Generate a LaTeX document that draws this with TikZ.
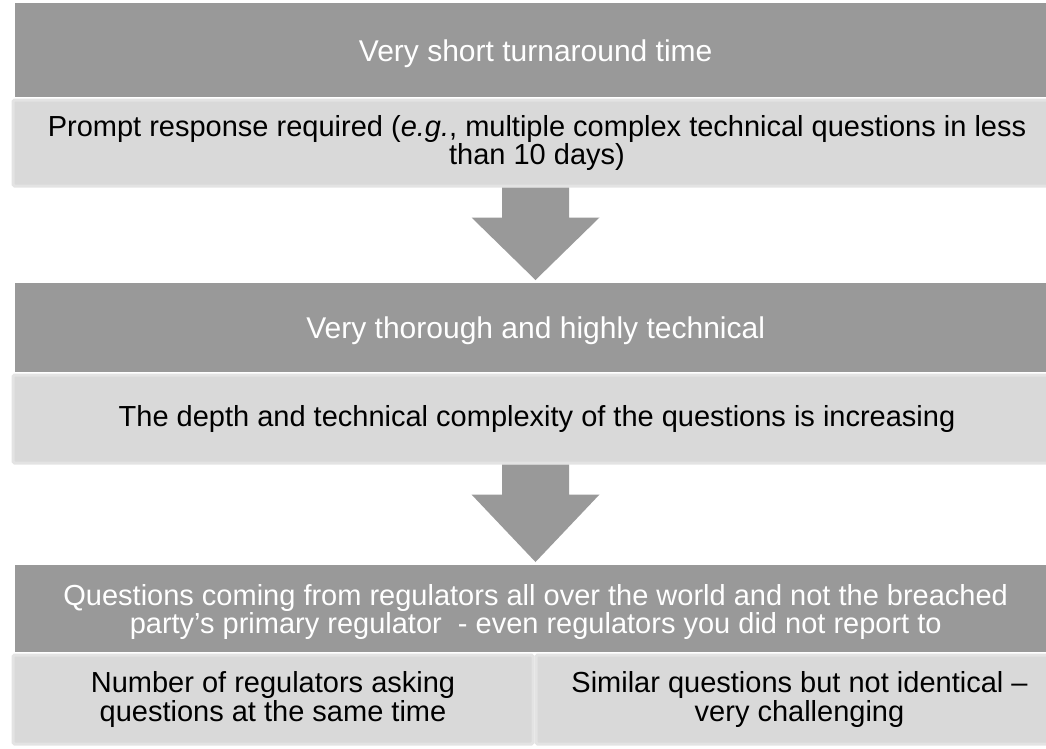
\documentclass[tikz,border=0pt]{standalone}
\usepackage{fontspec}
\setmainfont{Liberation Sans}
\usetikzlibrary{calc}
\definecolor{headgray}{HTML}{999999}
\definecolor{bodygray}{HTML}{D9D9D9}
\definecolor{bodyedge}{HTML}{E3E3E3}
\begin{document}
\begin{tikzpicture}[x=1pt,y=-1pt,
  headbox/.style={fill=headgray, draw=none, anchor=north west, inner sep=0pt,
    text=white, align=center, text depth=0pt, font=\fontsize{30}{26.5}\selectfont},
  bodybox/.style={fill=bodygray, draw=bodyedge, line width=3pt, rounded corners=1.5pt,
    anchor=north west, inner sep=0pt, align=center, font=\fontsize{29}{26.5}\selectfont},
  blockarrow/.style={fill=headgray, draw=none}]
\useasboundingbox (0,0) rectangle (1046,748);
\clip (0,0) rectangle (1046,748);

% first stage
\node[headbox, minimum width=1041pt, minimum height=94pt] (t1) at (15,3)
  {Very short turnaround time};
\node[bodybox, minimum width=1048pt, minimum height=86pt] (p1) at (11.5,98.5)
  {Prompt response required (\textit{e.g.}, multiple complex technical questions in less\\than 10 days)};

% second stage
\node[headbox, minimum width=1041pt, minimum height=89pt] (t2) at (15,283)
  {Very thorough and highly technical};
\node[bodybox, minimum width=1048pt, minimum height=88pt] (p2) at (11.5,373.5)
  {The depth and technical complexity of the questions is increasing};

% third stage
\node[headbox, minimum width=1041pt, minimum height=87pt,
  font=\fontsize{29}{26}\selectfont] (t3) at (15,565)
  {Questions coming from regulators all over the world and not the breached\\party’s primary regulator \ - even regulators you did not report to};
\node[bodybox, minimum width=520pt, minimum height=89pt,
  font=\fontsize{29}{26}\selectfont] (q1) at (11.5,653.5)
  {Number of regulators asking\\questions at the same time};
\node[bodybox, minimum width=527pt, minimum height=89pt,
  font=\fontsize{29}{26}\selectfont] (q2) at (534.5,653.5)
  {Similar questions but not identical –\\very challenging};

% block arrows between the stages
\coordinate (ax) at (535.5,0);
\foreach \src/\dst in {p1/t2, p2/t3}{
  \fill[blockarrow]
    ($(\src.south -| ax)+(-33.5,0)$) -- ($(\src.south -| ax)+(33.5,0)$)
    -- ($(\src.south -| ax)+(33.5,30)$) -- ($(\src.south -| ax)+(64,30)$)
    -- ($(\dst.north -| ax)+(0,-3)$)
    -- ($(\src.south -| ax)+(-64,30)$) -- ($(\src.south -| ax)+(-33.5,30)$)
    -- cycle;
}
\end{tikzpicture}
\end{document}
